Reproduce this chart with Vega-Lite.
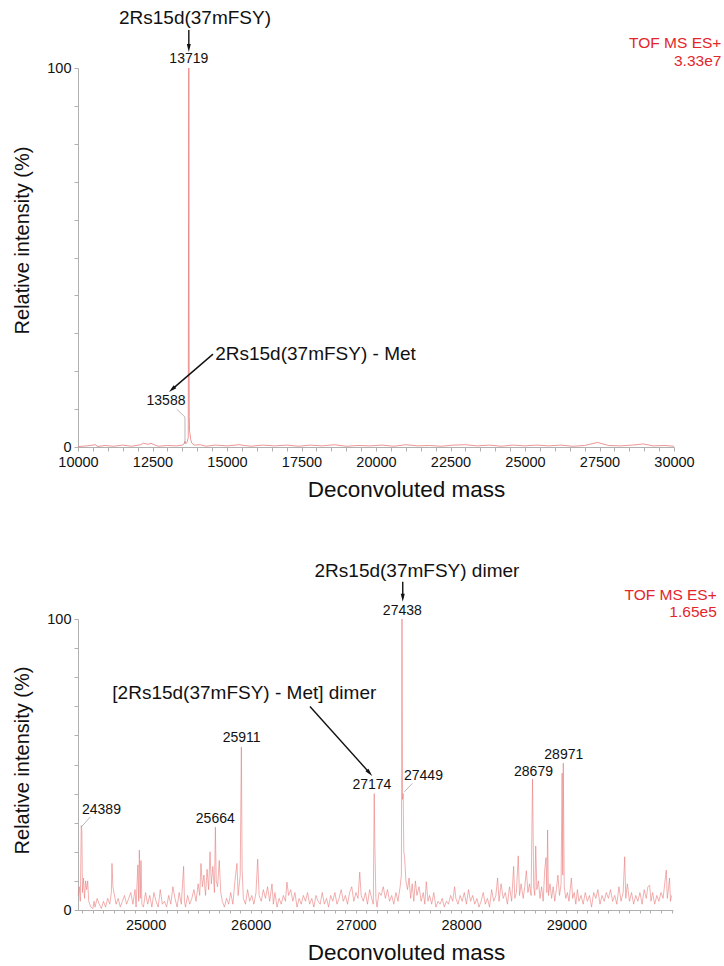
{
"$schema": "https://vega.github.io/schema/vega-lite/v6.json",
"padding": {"left": 12, "top": 8, "right": 2, "bottom": 2},
"background": "white",
"config": {"view": {"stroke": null}, "font": "Liberation Sans",
  "axis": {"domainColor": "#b0b0b0", "tickColor": "#b0b0b0", "labelColor": "#111", "labelFontSize": 14.5, "titleFontSize": 20, "titleFontWeight": "normal", "titleColor": "#111", "tickSize": 4, "grid": false, "labelFont": "Liberation Sans", "titleFont": "Liberation Sans"}},
"bounds": "flush",
"spacing": 172,
"datasets": {
"top": [
{"m":10000,"i":0.1},{"m":10300,"i":0.3},{"m":10600,"i":0.6},{"m":10650,"i":0.1},{"m":10900,"i":0.4},{"m":11200,"i":0.2},{"m":11500,"i":0.5},{"m":11800,"i":0.2},{"m":12100,"i":0.6},{"m":12200,"i":1.0},{"m":12350,"i":0.7},{"m":12450,"i":1.0},{"m":12550,"i":0.6},{"m":12700,"i":0.2},{"m":13000,"i":0.4},{"m":13300,"i":0.3},{"m":13500,"i":0.5},{"m":13560,"i":0.8},{"m":13588,"i":1.5},{"m":13620,"i":0.9},{"m":13660,"i":1.2},{"m":13700,"i":2.5},{"m":13719,"i":100},{"m":13726,"i":33},{"m":13733,"i":8},{"m":13745,"i":4},{"m":13760,"i":3.5},{"m":13780,"i":2},{"m":13820,"i":1},{"m":13900,"i":0.5},{"m":14100,"i":0.6},{"m":14300,"i":0.2},{"m":14600,"i":0.5},{"m":15000,"i":0.3},{"m":15400,"i":0.6},{"m":15800,"i":0.2},{"m":16200,"i":0.5},{"m":16600,"i":0.3},{"m":17000,"i":0.5},{"m":17400,"i":0.2},{"m":17800,"i":0.5},{"m":18200,"i":0.3},{"m":18600,"i":0.6},{"m":19000,"i":0.2},{"m":19400,"i":0.4},{"m":19800,"i":0.3},{"m":20200,"i":0.5},{"m":20600,"i":0.2},{"m":21000,"i":0.6},{"m":21400,"i":0.3},{"m":21800,"i":0.4},{"m":22200,"i":0.2},{"m":22600,"i":0.5},{"m":23000,"i":0.6},{"m":23400,"i":0.3},{"m":23800,"i":0.5},{"m":24200,"i":0.2},{"m":24600,"i":0.5},{"m":25000,"i":0.3},{"m":25400,"i":0.5},{"m":25800,"i":0.3},{"m":26200,"i":0.5},{"m":26600,"i":0.2},{"m":27000,"i":0.4},{"m":27438,"i":1.2},{"m":27800,"i":0.4},{"m":28200,"i":0.3},{"m":28600,"i":0.5},{"m":28971,"i":0.8},{"m":29300,"i":0.3},{"m":29700,"i":0.4},{"m":30000,"i":0.2}
],
"bottom": [
{"m":24360,"i":5},{"m":24370,"i":8},{"m":24380,"i":3},{"m":24389,"i":29},{"m":24395,"i":27},{"m":24400,"i":6},{"m":24410,"i":11},{"m":24420,"i":4},{"m":24430,"i":10},{"m":24440,"i":7},{"m":24450,"i":10},{"m":24460,"i":3},{"m":24480,"i":1},{"m":24500,"i":0.5},{"m":24510,"i":3},{"m":24520,"i":1},{"m":24540,"i":4},{"m":24560,"i":2},{"m":24580,"i":0.5},{"m":24600,"i":3},{"m":24620,"i":1},{"m":24640,"i":4},{"m":24660,"i":2},{"m":24675,"i":6},{"m":24681,"i":16},{"m":24690,"i":8},{"m":24700,"i":6},{"m":24720,"i":2},{"m":24740,"i":4},{"m":24760,"i":1},{"m":24780,"i":3},{"m":24800,"i":5},{"m":24820,"i":2},{"m":24840,"i":4},{"m":24860,"i":6},{"m":24880,"i":2},{"m":24900,"i":7},{"m":24910,"i":1},{"m":24927,"i":15.5},{"m":24935,"i":3},{"m":24941,"i":20.6},{"m":24950,"i":4},{"m":24957,"i":17},{"m":24965,"i":2},{"m":24980,"i":1},{"m":25000,"i":6},{"m":25020,"i":2},{"m":25040,"i":5},{"m":25060,"i":1},{"m":25080,"i":6},{"m":25100,"i":3},{"m":25120,"i":1},{"m":25140,"i":7},{"m":25160,"i":2},{"m":25180,"i":3},{"m":25200,"i":1},{"m":25220,"i":5},{"m":25240,"i":2},{"m":25260,"i":8},{"m":25280,"i":4},{"m":25300,"i":1},{"m":25320,"i":6},{"m":25340,"i":2},{"m":25362,"i":15},{"m":25370,"i":3},{"m":25380,"i":1},{"m":25400,"i":5},{"m":25420,"i":2},{"m":25440,"i":4},{"m":25460,"i":7},{"m":25480,"i":3},{"m":25500,"i":9},{"m":25515,"i":5},{"m":25527,"i":16},{"m":25540,"i":8},{"m":25555,"i":12},{"m":25570,"i":5},{"m":25585,"i":14},{"m":25600,"i":7},{"m":25613,"i":20},{"m":25625,"i":9},{"m":25640,"i":15},{"m":25655,"i":6},{"m":25664,"i":28.5},{"m":25672,"i":10},{"m":25685,"i":8},{"m":25701,"i":17},{"m":25715,"i":6},{"m":25730,"i":3},{"m":25750,"i":1},{"m":25770,"i":4},{"m":25790,"i":2},{"m":25810,"i":6},{"m":25830,"i":2},{"m":25850,"i":10},{"m":25869,"i":16},{"m":25880,"i":5},{"m":25900,"i":12},{"m":25911,"i":56},{"m":25918,"i":14},{"m":25930,"i":4},{"m":25950,"i":2},{"m":25970,"i":7},{"m":25990,"i":3},{"m":26010,"i":5},{"m":26030,"i":2},{"m":26050,"i":6},{"m":26066,"i":17.5},{"m":26080,"i":5},{"m":26100,"i":3},{"m":26120,"i":7},{"m":26140,"i":4},{"m":26160,"i":8},{"m":26180,"i":3},{"m":26202,"i":9},{"m":26215,"i":2},{"m":26230,"i":6},{"m":26250,"i":1},{"m":26270,"i":4},{"m":26290,"i":2},{"m":26310,"i":5},{"m":26330,"i":3},{"m":26344,"i":9.6},{"m":26360,"i":5},{"m":26380,"i":7},{"m":26400,"i":3},{"m":26420,"i":6},{"m":26440,"i":1},{"m":26460,"i":4},{"m":26480,"i":2},{"m":26500,"i":5},{"m":26520,"i":3},{"m":26540,"i":6},{"m":26560,"i":2},{"m":26580,"i":4},{"m":26600,"i":1},{"m":26620,"i":5},{"m":26640,"i":3},{"m":26660,"i":2},{"m":26680,"i":6},{"m":26700,"i":2},{"m":26720,"i":4},{"m":26740,"i":1},{"m":26760,"i":5},{"m":26780,"i":3},{"m":26800,"i":6},{"m":26820,"i":2},{"m":26840,"i":4},{"m":26860,"i":7},{"m":26880,"i":3},{"m":26900,"i":5},{"m":26920,"i":2},{"m":26940,"i":6},{"m":26960,"i":8},{"m":26980,"i":3},{"m":27000,"i":6},{"m":27020,"i":4},{"m":27036,"i":13},{"m":27050,"i":5},{"m":27070,"i":3},{"m":27090,"i":6},{"m":27110,"i":2},{"m":27130,"i":7},{"m":27150,"i":4},{"m":27165,"i":2},{"m":27174,"i":40},{"m":27180,"i":22},{"m":27190,"i":4},{"m":27200,"i":1},{"m":27220,"i":6},{"m":27240,"i":5},{"m":27260,"i":8},{"m":27280,"i":4},{"m":27300,"i":7},{"m":27320,"i":3},{"m":27340,"i":5},{"m":27360,"i":2},{"m":27380,"i":6},{"m":27400,"i":3},{"m":27420,"i":8},{"m":27432,"i":12},{"m":27438,"i":100},{"m":27443,"i":38},{"m":27449,"i":40},{"m":27455,"i":20},{"m":27463,"i":18},{"m":27475,"i":10},{"m":27490,"i":7},{"m":27505,"i":11},{"m":27520,"i":4},{"m":27535,"i":9},{"m":27550,"i":3},{"m":27565,"i":10},{"m":27580,"i":5},{"m":27600,"i":8},{"m":27620,"i":3},{"m":27640,"i":6},{"m":27655,"i":2},{"m":27669,"i":9.7},{"m":27685,"i":3},{"m":27700,"i":5},{"m":27720,"i":2},{"m":27740,"i":6},{"m":27760,"i":1},{"m":27780,"i":3},{"m":27800,"i":2},{"m":27820,"i":4},{"m":27840,"i":1},{"m":27860,"i":3},{"m":27880,"i":2},{"m":27900,"i":5},{"m":27920,"i":3},{"m":27938,"i":8},{"m":27950,"i":4},{"m":27970,"i":2},{"m":27990,"i":5},{"m":28010,"i":3},{"m":28030,"i":6},{"m":28050,"i":2},{"m":28070,"i":7},{"m":28090,"i":3},{"m":28110,"i":5},{"m":28130,"i":2},{"m":28150,"i":4},{"m":28170,"i":1},{"m":28190,"i":3},{"m":28210,"i":6},{"m":28230,"i":2},{"m":28250,"i":4},{"m":28270,"i":1},{"m":28290,"i":7},{"m":28310,"i":3},{"m":28330,"i":5},{"m":28347,"i":11},{"m":28360,"i":3},{"m":28380,"i":9},{"m":28400,"i":4},{"m":28420,"i":6},{"m":28440,"i":2},{"m":28460,"i":8},{"m":28480,"i":3},{"m":28499,"i":15},{"m":28510,"i":4},{"m":28525,"i":6},{"m":28543,"i":18.6},{"m":28555,"i":5},{"m":28570,"i":9},{"m":28590,"i":4},{"m":28605,"i":8},{"m":28620,"i":13.5},{"m":28635,"i":6},{"m":28650,"i":9},{"m":28665,"i":5},{"m":28679,"i":45},{"m":28690,"i":8},{"m":28700,"i":5},{"m":28709,"i":22},{"m":28720,"i":7},{"m":28735,"i":10},{"m":28750,"i":4},{"m":28765,"i":8},{"m":28780,"i":3},{"m":28795,"i":14},{"m":28807,"i":18},{"m":28815,"i":6},{"m":28822,"i":27.5},{"m":28830,"i":5},{"m":28845,"i":9},{"m":28860,"i":4},{"m":28875,"i":8},{"m":28890,"i":3},{"m":28905,"i":7},{"m":28920,"i":12},{"m":28935,"i":5},{"m":28950,"i":9},{"m":28960,"i":47},{"m":28966,"i":12},{"m":28971,"i":50.5},{"m":28980,"i":8},{"m":28995,"i":4},{"m":29010,"i":6},{"m":29025,"i":3},{"m":29048,"i":11},{"m":29060,"i":4},{"m":29075,"i":6},{"m":29090,"i":2},{"m":29105,"i":7},{"m":29120,"i":3},{"m":29140,"i":5},{"m":29160,"i":2},{"m":29180,"i":6},{"m":29200,"i":3},{"m":29220,"i":5},{"m":29240,"i":1},{"m":29260,"i":6},{"m":29280,"i":4},{"m":29300,"i":7},{"m":29320,"i":2},{"m":29340,"i":5},{"m":29360,"i":3},{"m":29380,"i":6},{"m":29400,"i":4},{"m":29420,"i":7},{"m":29440,"i":3},{"m":29460,"i":5},{"m":29480,"i":2},{"m":29500,"i":8},{"m":29520,"i":3},{"m":29540,"i":6},{"m":29555,"i":18.3},{"m":29565,"i":4},{"m":29580,"i":9},{"m":29600,"i":3},{"m":29620,"i":6},{"m":29640,"i":2},{"m":29660,"i":5},{"m":29680,"i":3},{"m":29700,"i":6},{"m":29720,"i":2},{"m":29740,"i":7},{"m":29760,"i":4},{"m":29775,"i":8},{"m":29792,"i":8.5},{"m":29805,"i":3},{"m":29820,"i":6},{"m":29840,"i":2},{"m":29860,"i":5},{"m":29880,"i":3},{"m":29900,"i":6},{"m":29920,"i":4},{"m":29935,"i":9},{"m":29950,"i":13.7},{"m":29960,"i":4},{"m":29970,"i":7},{"m":29981,"i":11},{"m":29990,"i":3},{"m":30000,"i":5}
],
"topPeakLabels": [{"m":13719,"i":102.3,"t":"13719"},{"m":12953,"i":12.2,"t":"13588"}],
"topNames": [{"m":13926,"i":113.3,"t":"2Rs15d(37mFSY)"},{"m":17970,"i":24.5,"t":"2Rs15d(37mFSY) - Met"}],
"topTof": [{"m":31590,"i":106.6,"t":"TOF MS ES+"},{"m":31590,"i":101.8,"t":"3.33e7"}],
"topArrows": [{"m":13719,"i":110,"m2":13719,"i2":105.3},{"m":14530,"i":24.5,"m2":13154,"i2":15.2}],
"topLeaders": [{"m":13311,"i":10,"m2":13590,"i2":7.9},{"m":13590,"i":7.9,"m2":13590,"i2":0.8}],
"topHeadDown": [{"m":13719,"i":105.3}],
"topHeadDiag": [{"m":13154,"i":15.2}],
"botPeakLabels": [{"m":24581,"i":34.4,"t":"24389"},{"m":25663,"i":31.2,"t":"25664"},{"m":25914,"i":59,"t":"25911"},{"m":27152,"i":43,"t":"27174"},{"m":27441,"i":102.7,"t":"27438"},{"m":27642,"i":46,"t":"27449"},{"m":28688,"i":47.5,"t":"28679"},{"m":28976,"i":53.3,"t":"28971"}],
"botNames": [{"m":27580,"i":116.6,"t":"2Rs15d(37mFSY) dimer"},{"m":25939,"i":74.5,"t":"[2Rs15d(37mFSY) - Met] dimer"}],
"botTof": [{"m":30430,"i":108.2,"t":"TOF MS ES+"},{"m":30430,"i":102.5,"t":"1.65e5"}],
"botArrows": [{"m":27445,"i":112.8,"m2":27445,"i2":107.3},{"m":26563,"i":69.9,"m2":27130,"i2":47.1}],
"botLeaders": [{"m":24389,"i":28.5,"m2":24475,"i2":32},{"m":27460,"i":40.6,"m2":27536,"i2":43.5}],
"botHeadDown": [{"m":27445,"i":107.3}],
"botHeadDiag": [{"m":27130,"i":47.1}]
},
"vconcat": [
{
"width": 596, "height": 379,
"encoding": {
  "x": {"field": "m", "type": "quantitative", "scale": {"domain": [10000, 30000], "nice": false, "zero": false},
        "axis": {"title": "Deconvoluted mass", "titleFontSize": 22.5, "titleX": 328, "values": [10000,10500,11000,11500,12000,12500,13000,13500,14000,14500,15000,15500,16000,16500,17000,17500,18000,18500,19000,19500,20000,20500,21000,21500,22000,22500,23000,23500,24000,24500,25000,25500,26000,26500,27000,27500,28000,28500,29000,29500,30000],
        "format": "d", "labelExpr": "datum.value % 2500 == 0 ? datum.label : ''", "labelPadding": 4, "titlePadding": 10, "labelFlush": false, "labelOverlap": false}},
  "y": {"field": "i", "type": "quantitative", "scale": {"domain": [0, 100], "nice": false},
        "axis": {"title": "Relative intensity (%)", "values": [0,10,20,30,40,50,60,70,80,90,100], "labelExpr": "datum.value == 0 || datum.value == 100 ? datum.label : ''", "labelPadding": 3, "titlePadding": 14, "titleY": 172}}
},
"layer": [
{"data": {"name": "top"}, "mark": {"type": "line", "color": "#ea7b7b", "strokeWidth": 0.8}, "encoding": {}},
{"data": {"name": "topLeaders"}, "mark": {"type": "rule", "color": "#9a9a9a", "strokeWidth": 0.7},
 "encoding": {"x2": {"field": "m2"}, "y2": {"field": "i2"}}},
{"data": {"name": "topArrows"}, "mark": {"type": "rule", "color": "#111", "strokeWidth": 1.4},
 "encoding": {"x2": {"field": "m2"}, "y2": {"field": "i2"}}},
{"data": {"name": "topHeadDown"}, "mark": {"type": "point", "shape": "M0,-1L0.5,1L-0.5,1Z", "filled": true, "color": "#111", "opacity": 1, "size": 64, "angle": 180}},
{"data": {"name": "topHeadDiag"}, "mark": {"type": "point", "shape": "M0,-1L0.5,1L-0.5,1Z", "filled": true, "color": "#111", "opacity": 1, "size": 64, "angle": 229}},
{"data": {"name": "topPeakLabels"}, "mark": {"type": "text", "fontSize": 14, "color": "#111", "align": "center", "baseline": "middle"},
 "encoding": {"text": {"field": "t"}}},
{"data": {"name": "topNames"}, "mark": {"type": "text", "fontSize": 19, "color": "#111", "align": "center", "baseline": "middle"},
 "encoding": {"text": {"field": "t"}}},
{"data": {"name": "topTof"}, "mark": {"type": "text", "fontSize": 15.5, "color": "#e3262b", "align": "right", "baseline": "middle"},
 "encoding": {"text": {"field": "t"}}}
]
},
{
"width": 595, "height": 291,
"encoding": {
  "x": {"field": "m", "type": "quantitative", "scale": {"domain": [24358, 30014], "nice": false, "zero": false},
        "axis": {"title": "Deconvoluted mass", "titleFontSize": 22.5, "titleX": 328, "values": [24400,24500,24600,24700,24800,24900,25000,25100,25200,25300,25400,25500,25600,25700,25800,25900,26000,26100,26200,26300,26400,26500,26600,26700,26800,26900,27000,27100,27200,27300,27400,27500,27600,27700,27800,27900,28000,28100,28200,28300,28400,28500,28600,28700,28800,28900,29000,29100,29200,29300,29400,29500,29600,29700,29800,29900,30000],
        "format": "d", "labelExpr": "datum.value % 1000 == 0 && datum.value < 30000 ? datum.label : ''", "labelPadding": 5, "titlePadding": 10, "labelFlush": false, "labelOverlap": false, "tickSize": 3}},
  "y": {"field": "i", "type": "quantitative", "scale": {"domain": [0, 100], "nice": false},
        "axis": {"title": "Relative intensity (%)", "values": [0,10,20,30,40,50,60,70,80,90,100], "labelExpr": "datum.value == 0 || datum.value == 100 ? datum.label : ''", "labelPadding": 3, "titlePadding": 14, "titleY": 141}}
},
"layer": [
{"data": {"name": "bottom"}, "mark": {"type": "line", "color": "#ea7b7b", "strokeWidth": 0.6}, "encoding": {}},
{"data": {"name": "botLeaders"}, "mark": {"type": "rule", "color": "#9a9a9a", "strokeWidth": 0.7},
 "encoding": {"x2": {"field": "m2"}, "y2": {"field": "i2"}}},
{"data": {"name": "botArrows"}, "mark": {"type": "rule", "color": "#111", "strokeWidth": 1.4},
 "encoding": {"x2": {"field": "m2"}, "y2": {"field": "i2"}}},
{"data": {"name": "botHeadDown"}, "mark": {"type": "point", "shape": "M0,-1L0.5,1L-0.5,1Z", "filled": true, "color": "#111", "opacity": 1, "size": 64, "angle": 180}},
{"data": {"name": "botHeadDiag"}, "mark": {"type": "point", "shape": "M0,-1L0.5,1L-0.5,1Z", "filled": true, "color": "#111", "opacity": 1, "size": 64, "angle": 138}},
{"data": {"name": "botPeakLabels"}, "mark": {"type": "text", "fontSize": 14, "color": "#111", "align": "center", "baseline": "middle"},
 "encoding": {"text": {"field": "t"}}},
{"data": {"name": "botNames"}, "mark": {"type": "text", "fontSize": 19, "color": "#111", "align": "center", "baseline": "middle"},
 "encoding": {"text": {"field": "t"}}},
{"data": {"name": "botTof"}, "mark": {"type": "text", "fontSize": 15.5, "color": "#e3262b", "align": "right", "baseline": "middle"},
 "encoding": {"text": {"field": "t"}}}
]
}
]
}
